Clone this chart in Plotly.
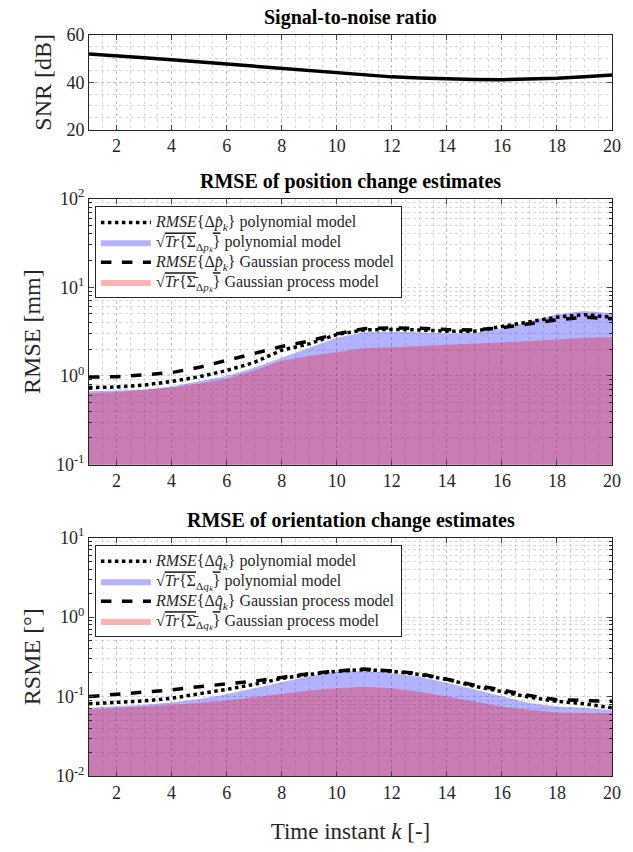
import plotly.graph_objects as go

k = list(range(1, 21))

snr_db = [52.0, 51.3, 50.4, 49.5, 48.6, 47.8, 46.9, 46.0, 44.9, 43.9,
          43.0, 42.3, 41.8, 41.4, 41.2, 41.1, 41.3, 41.7, 42.3, 43.1]

pos_rmse_poly = [0.74, 0.75, 0.79, 0.865, 0.98, 1.15, 1.42, 1.95, 2.30, 2.93,
                 3.30, 3.35, 3.30, 3.20, 3.20, 3.60, 4.10, 4.60, 4.90, 4.60]
pos_std_poly = [0.67, 0.68, 0.70, 0.76, 0.865, 1.00, 1.24, 1.60, 2.08, 2.70,
                3.10, 3.15, 3.10, 3.00, 3.05, 3.40, 4.10, 4.97, 5.40, 5.10]
pos_rmse_gp = [0.97, 0.98, 1.03, 1.09, 1.25, 1.48, 1.79, 2.15, 2.47, 2.98,
               3.41, 3.47, 3.45, 3.33, 3.30, 3.50, 3.90, 4.30, 4.60, 4.40]
pos_std_gp = [0.64, 0.66, 0.70, 0.74, 0.82, 0.93, 1.15, 1.48, 1.68, 1.85,
              2.05, 2.10, 2.17, 2.20, 2.30, 2.38, 2.47, 2.58, 2.69, 2.73]

ori_rmse_poly = [0.081, 0.084, 0.088, 0.095, 0.107, 0.123, 0.142, 0.169, 0.189, 0.208,
                 0.218, 0.208, 0.189, 0.164, 0.135, 0.115, 0.098, 0.087, 0.081, 0.072]
ori_std_poly = [0.072, 0.075, 0.079, 0.084, 0.093, 0.107, 0.127, 0.153, 0.180, 0.204,
                0.210, 0.198, 0.177, 0.149, 0.123, 0.100, 0.083, 0.075, 0.072, 0.067]
ori_rmse_gp = [0.100, 0.107, 0.113, 0.121, 0.133, 0.143, 0.156, 0.174, 0.194, 0.210,
               0.222, 0.210, 0.194, 0.165, 0.139, 0.121, 0.103, 0.091, 0.088, 0.087]
ori_std_gp = [0.068, 0.072, 0.075, 0.079, 0.083, 0.089, 0.098, 0.108, 0.119, 0.127,
              0.133, 0.127, 0.115, 0.100, 0.087, 0.075, 0.068, 0.063, 0.062, 0.062]

x_ticks = [2, 4, 6, 8, 10, 12, 14, 16, 18, 20]

FONT = "Liberation Serif, Times New Roman, serif"
TXT = "#262626"
BLUE_FILL = "rgba(0,0,255,0.3)"
RED_FILL = "rgba(255,0,0,0.3)"
GRID = "rgba(150,150,150,0.45)"
MGRID = "rgba(150,150,150,0.35)"
OVL = "<span style='text-decoration:overline'>"


def big(s):
    return "<span style='font-size:16px'>" + s + "</span>"


fig = go.Figure()

fig.add_trace(go.Scatter(x=k, y=snr_db, mode="lines", line=dict(color="black", width=3.5),
                         showlegend=False, xaxis="x", yaxis="y"))


def add_panel(xa, ya, leg, rmse_poly, std_poly, rmse_gp, std_gp, sym):
    sub = "<sub>Δ<i>" + sym + "ₖ</i></sub>"
    fig.add_trace(go.Scatter(x=k, y=std_poly, mode="lines", line=dict(width=0, color=BLUE_FILL),
                             fill="tozeroy", fillcolor=BLUE_FILL, xaxis=xa, yaxis=ya,
                             legend=leg, legendrank=2,
                             name=big("√" + OVL + "<i>Tr</i>{Σ</span>" + sub + OVL + "}</span> polynomial model")))
    fig.add_trace(go.Scatter(x=k, y=std_gp, mode="lines", line=dict(width=0, color=RED_FILL),
                             fill="tozeroy", fillcolor=RED_FILL, xaxis=xa, yaxis=ya,
                             legend=leg, legendrank=4,
                             name=big("√" + OVL + "<i>Tr</i>{Σ̄</span>" + sub + OVL + "}</span> Gaussian process model")))
    fig.add_trace(go.Scatter(x=k, y=rmse_poly, mode="lines", line=dict(color="black", width=3.5, dash="dot"),
                             xaxis=xa, yaxis=ya, legend=leg, legendrank=1,
                             name=big("<i>RMSE</i>{Δ<i>" + sym + "̂</i><sub><i>k</i></sub>} polynomial model")))
    fig.add_trace(go.Scatter(x=k, y=rmse_gp, mode="lines", line=dict(color="black", width=3.5, dash="dash"),
                             xaxis=xa, yaxis=ya, legend=leg, legendrank=3,
                             name=big("<i>RMSE</i>{Δ<i>" + sym + "̂</i><sub><i>k</i></sub>} Gaussian process model")))


add_panel("x2", "y2", "legend", pos_rmse_poly, pos_std_poly, pos_rmse_gp, pos_std_gp, "p")
add_panel("x3", "y3", "legend2", ori_rmse_poly, ori_std_poly, ori_rmse_gp, ori_std_gp, "q")


def log_minor(lo, hi):
    vals = []
    for e in range(lo, hi):
        for m in range(2, 10):
            vals.append(m * 10 ** e)
    return vals


def xaxis_cfg(anchor, title=None):
    d = dict(range=[1, 20], tickvals=x_ticks, ticks="inside", ticklen=5, mirror="ticks",
             showline=True, linecolor=TXT, linewidth=1, anchor=anchor,
             showgrid=True, gridcolor=GRID, griddash="dot", zeroline=False,
             tickfont=dict(family=FONT, size=18, color=TXT),
             minor=dict(dtick=0.5, showgrid=True, gridcolor=MGRID, griddash="dot", ticks=""))
    if title:
        d["title"] = dict(text=title, font=dict(family=FONT, size=23, color=TXT), standoff=21)
    return d


def ylog_cfg(lo, hi, domain, title, anchor):
    return dict(type="log", range=[lo, hi], domain=domain, anchor=anchor,
                tickvals=[10 ** e for e in range(lo, hi + 1)],
                ticktext=["10<sup>%d</sup>" % e for e in range(lo, hi + 1)],
                ticks="inside", ticklen=5, mirror="ticks", showline=True, linecolor=TXT,
                linewidth=1, showgrid=True, gridcolor=GRID, griddash="dot", zeroline=False,
                tickfont=dict(family=FONT, size=18, color=TXT),
                title=dict(text=title, font=dict(family=FONT, size=24, color=TXT), standoff=8),
                minor=dict(tickvals=log_minor(lo, hi), showgrid=True, gridcolor=MGRID,
                           griddash="dot", ticks="inside", ticklen=3, tickcolor=TXT))


TOP_D = [0.8723, 1.0]
MID_D = [0.4202, 0.7793]
BOT_D = [0.0, 0.3218]

legend_style = dict(xanchor="left", yanchor="top", xref="paper", yref="paper",
                    bgcolor="white", bordercolor=TXT, borderwidth=1,
                    font=dict(family=FONT, size=13, color=TXT), tracegroupgap=0,
                    traceorder="normal", itemwidth=50)

fig.update_layout(
    width=633, height=852,
    margin=dict(l=89, r=13, t=35, b=65),
    paper_bgcolor="white", plot_bgcolor="white",
    font=dict(family=FONT, color=TXT),
    xaxis=xaxis_cfg("y"),
    yaxis=dict(range=[20, 60], domain=TOP_D, anchor="x", tickvals=[20, 40, 60],
               ticks="inside", ticklen=5, mirror="ticks", showline=True, linecolor=TXT,
               linewidth=1, showgrid=True, gridcolor=GRID, griddash="dot", zeroline=False,
               tickfont=dict(family=FONT, size=18, color=TXT),
               title=dict(text="SNR [dB]", font=dict(family=FONT, size=24, color=TXT), standoff=8),
               minor=dict(dtick=5, showgrid=True, gridcolor=MGRID, griddash="dot", ticks="")),
    xaxis2=xaxis_cfg("y2"),
    yaxis2=ylog_cfg(-1, 2, MID_D, "RMSE [mm]", "x2"),
    xaxis3=xaxis_cfg("y3", "Time instant <i>k</i> [-]"),
    yaxis3=ylog_cfg(-2, 1, BOT_D, "RSME [°]", "x3"),
    legend=dict(x=0.0113, y=0.7686, **legend_style),
    legend2=dict(x=0.0113, y=0.3112, **legend_style),
)

titles = [("Signal-to-noise ratio", TOP_D[1]), ("RMSE of position change estimates", MID_D[1]),
          ("RMSE of orientation change estimates", BOT_D[1])]
for txt, ytop in titles:
    fig.add_annotation(text="<b>" + txt + "</b>", x=0.5, y=ytop, xref="paper", yref="paper",
                       xanchor="center", yanchor="bottom", yshift=4, showarrow=False,
                       font=dict(family=FONT, size=20, color="black"))

fig.write_html("out.html", config={"displayModeBar": False},
               post_script="document.body.style.margin='0px';document.body.style.overflow='hidden';")
